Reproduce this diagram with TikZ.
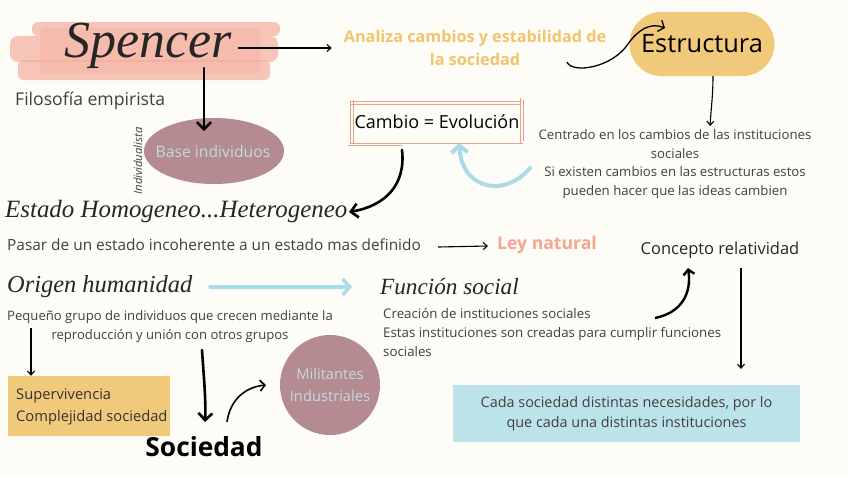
\documentclass[tikz,border=0pt]{standalone}
\usepackage{fontspec}
\setmainfont{Open Sans}
\newfontfamily\scr{Liberation Serif}
\usetikzlibrary{arrows.meta,calc,shapes.geometric}
\definecolor{bg}{HTML}{FDFCF7}
\definecolor{brush}{HTML}{F4AE9E}
\definecolor{gold}{HTML}{F0C97A}
\definecolor{goldtxt}{HTML}{F2C46E}
\definecolor{mauve}{HTML}{B38B91}
\definecolor{paleblue}{HTML}{BDE3EA}
\definecolor{skyarrow}{HTML}{A9DCE6}
\definecolor{salmon}{HTML}{F7A58F}
\definecolor{greytxt}{HTML}{404040}
\definecolor{lighttxt}{HTML}{C3DADF}
\definecolor{boxpink}{HTML}{F29C8C}
\tikzset{
  fs/.style={font=\fontsize{#1}{20}\selectfont},
  body/.style={inner sep=0pt, text=greytxt},
  scripttxt/.style={inner sep=0pt, font=\scr\itshape\fontsize{#1}{#1}\selectfont, text=black!85},
  thin arrow/.style={draw=black, line width=1.1pt, -{Straight Barb[length=4pt,width=7pt]}},
  thick arrow/.style={draw=black, line width=2.6pt, line cap=round, -{Straight Barb[length=7pt,width=14pt]}},
  blue arrow/.style={draw=skyarrow, line width=4pt, line cap=round, -{Straight Barb[length=7pt,width=16pt]}},
}
\begin{document}
\begin{tikzpicture}[x=1pt,y=-1pt]
\useasboundingbox (0,0) rectangle (848,477);
\fill[bg] (0,0) rectangle (848,477);

% brush strokes behind Spencer
\fill[brush,opacity=0.7,rounded corners=6pt] (32,22) rectangle (280,36);
\fill[brush,opacity=0.7,rounded corners=8pt] (10,36) rectangle (278,62);
\fill[brush,opacity=0.7,rounded corners=6pt] (18,60) rectangle (270,80);
\fill[brush,opacity=0.35,rounded corners=6pt] (40,28) rectangle (260,74);

\node[scripttxt=52] (spencer) at (148,46) {Spencer};
\node[body, fs=17.6, anchor=west] (filo) at (15,101) {Filosofía empirista};

\node[inner sep=0pt, text=goldtxt, font=\bfseries\fontsize{16.2}{23}\selectfont, align=center] (analiza) at (475,48) {Analiza cambios y estabilidad de\\la sociedad};
\draw[thin arrow] (spencer.east) ++(6,2) coordinate (spA) -- ($(analiza.west |- spA)+(-12,0)$);

% Estructura pill
\node[fill=gold, rounded corners=32pt, minimum width=145pt, minimum height=64pt, font=\fontsize{25.4}{28}\selectfont, text=black] (estr) at (702,44) {Estructura};
\coordinate (anEnd) at (567,62);
\draw[draw=black, line width=1.3pt, -{Straight Barb[length=5pt,width=12pt]}] (anEnd) .. controls (572,74) and (612,68) .. (628,44) .. controls (638,30) and (650,22) .. (665,28);

\node[body, align=center, font=\fontsize{13.2}{18.8}\selectfont] (centrado) at (675,164) {Centrado en los cambios de las instituciones\\sociales\\Si existen cambios en las estructuras estos\\pueden hacer que las ideas cambien};
\draw[thin arrow] (estr.south -| 713,0) .. controls (713,95) and (711,110) .. (710,126);

% Spencer down to base individuos
\fill[mauve] (214,151) ellipse [x radius=70, y radius=33];
\node[inner sep=0pt, text=lighttxt, font=\fontsize{15.7}{17}\selectfont] (base) at (213,152) {Base individuos};
\draw[thick arrow] (204,68) -- (204,131);
\node[rotate=90, inner sep=0pt, font=\itshape\fontsize{11.3}{12}\selectfont, text=greytxt] (indiv) at (138,161) {Individualista};

% Cambio = Evolución
\node[inner sep=0pt, font=\fontsize{18}{20}\selectfont, text=black] (cambio) at (437,122) {Cambio = Evolución};
\draw[boxpink, line width=0.7pt] (350,101) -- (522,101) (351,104) -- (520,104) (350,101) -- (350,143) (353,100) -- (353,144) (520,98) -- (520,143) (523,100) -- (523,141) (350,143) -- (523,143) (348,145) -- (402,145);

% blue curved arrow to Cambio
\coordinate (blueStart) at (530,168);
\draw[blue arrow] (blueStart) .. controls (505,198) and (462,190) .. (459,143);

% Cambio to Estado
\node[scripttxt=24.9, anchor=west] (estado) at (5,212) {Estado Homogeneo...Heterogeneo};
\draw[thick arrow] (402,150) .. controls (406,185) and (385,206) .. (349,212);

\node[body, fs=15.4, anchor=west] (pasar) at (7,245) {Pasar de un estado incoherente a un estado mas definido};
\node[inner sep=0pt, text=salmon, font=\bfseries\fontsize{17.6}{19}\selectfont, anchor=west] (ley) at (497,245) {Ley natural};
\draw[thin arrow] (pasar.east) ++(17,2) -- ($(ley.west)+(-9,1)$);

\node[inner sep=0pt, font=\fontsize{16.5}{19}\selectfont, text=black!85] (concepto) at (720,250) {Concepto relatividad};

% Origen / Funcion
\node[scripttxt=24.4, anchor=west] (origen) at (7,287) {Origen humanidad};
\node[scripttxt=23.2, anchor=west] (funcion) at (380,287) {Función social};
\draw[blue arrow, line width=3.5pt] (210,287) -- (352,287);

\node[body, align=center, font=\fontsize{13.1}{19}\selectfont] (pequeno) at (170,327) {Pequeño grupo de individuos que crecen mediante la\\reproducción y unión con otros grupos};
\node[body, align=left, anchor=north west, font=\fontsize{13.3}{19}\selectfont] (creacion) at (383,308) {Creación de instituciones sociales\\Estas instituciones son creadas para cumplir funciones\\sociales};

\draw[draw=black, line width=2.4pt, -{Straight Barb[length=5pt,width=11pt]}] (655,318) .. controls (680,313) and (692,295) .. (688,268);
\draw[thin arrow] (741,268) -- (741,369);

\node[fill=paleblue, minimum width=347pt, minimum height=57pt, align=center, text=greytxt, font=\fontsize{14.4}{20}\selectfont] (cada) at (626.5,413.5) {Cada sociedad distintas necesidades, por lo\\que cada una distintas instituciones};

% left bottom
\node[fill=gold, minimum width=162pt, minimum height=60pt, inner sep=0pt] (super) at (89,406) {};
\node[inner sep=0pt, anchor=west, align=left, text=black!80, font=\fontsize{14.7}{22}\selectfont] (supertxt) at (16,407) {Supervivencia\\Complejidad sociedad};
\draw[thin arrow] (31,328) -- (super.north -| 31,0);

\node[inner sep=0pt, font=\bfseries\fontsize{26.3}{28}\selectfont, text=black] (sociedad) at (204,447) {Sociedad};
\draw[thick arrow] (202,350) .. controls (204,380) and (206,400) .. (205,422);

\node[circle, fill=mauve, minimum size=100pt, inner sep=0pt, align=center, text=lighttxt, font=\fontsize{14.7}{22}\selectfont] (milit) at (330,385) {Militantes\\Industriales};
\draw[draw=black, line width=1.6pt, -{Straight Barb[length=5pt,width=11pt]}] (227,422) .. controls (230,400) and (245,387) .. (266,385);
\end{tikzpicture}
\end{document}
